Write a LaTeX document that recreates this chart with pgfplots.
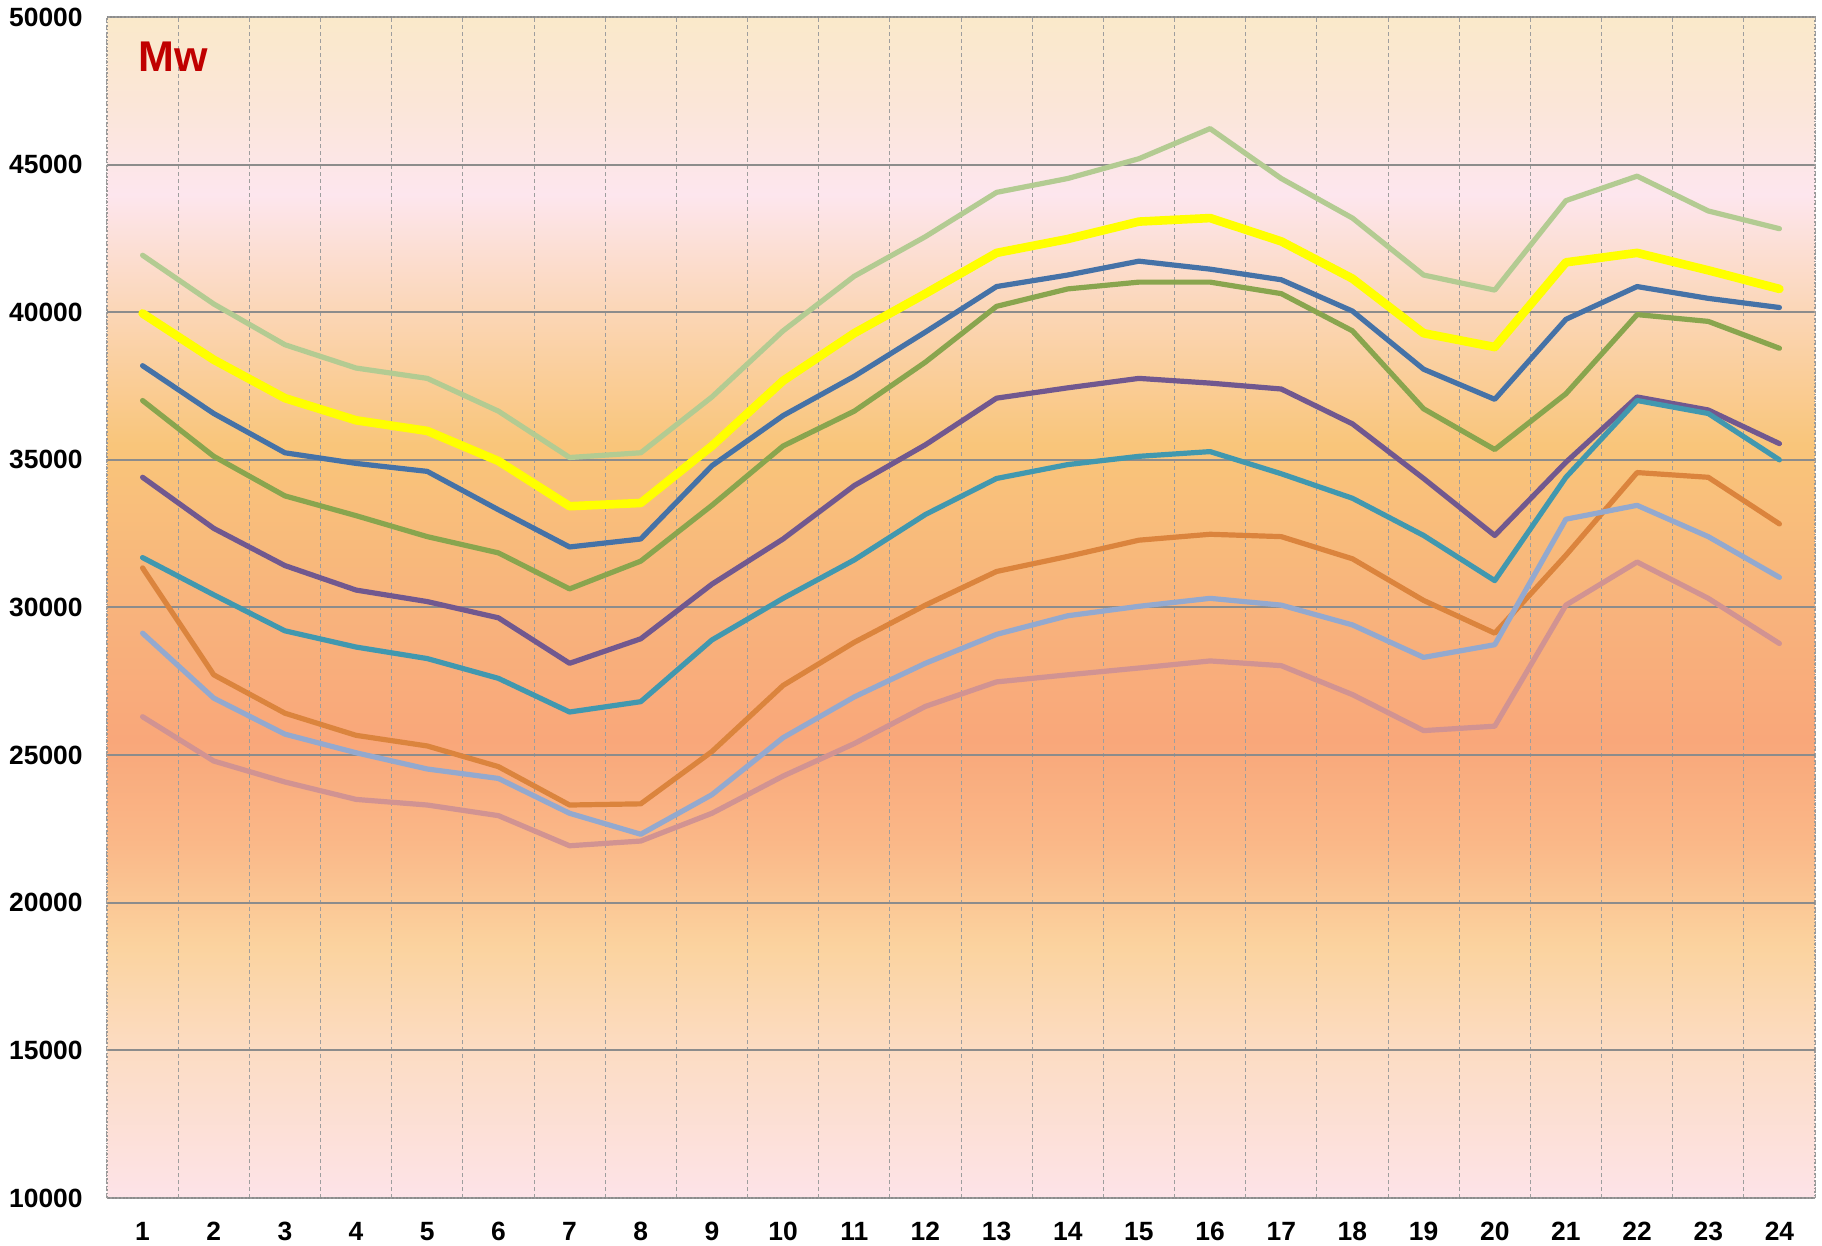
\documentclass[border=0pt]{standalone}
\usepackage{pgfplots}
\pgfplotsset{compat=1.18}
\usepackage{pgfplotstable}
\usepackage{fontspec}
\setmainfont{Liberation Sans}
\definecolor{cA}{HTML}{FDE3E8}
\definecolor{cB}{HTML}{FCDCC3}
\definecolor{cC}{HTML}{FBD39F}
\definecolor{cD}{HTML}{FAB888}
\definecolor{cE}{HTML}{F9A77A}
\definecolor{cF}{HTML}{F8B37C}
\definecolor{cG}{HTML}{F9C57A}
\definecolor{cH}{HTML}{FBD6B6}
\definecolor{cI}{HTML}{FDE6EE}
\definecolor{cJ}{HTML}{FBE6D8}
\definecolor{cK}{HTML}{FAE9CA}
\pgfdeclareverticalshading{bgshade}{100bp}{color(0bp)=(cA); color(25bp)=(cA); color(31.25bp)=(cB); color(35.625bp)=(cC); color(40bp)=(cD); color(44.375bp)=(cE); color(50bp)=(cF); color(56.875bp)=(cG); color(62.5bp)=(cH); color(67.5bp)=(cI); color(71.25bp)=(cJ); color(75bp)=(cK); color(100bp)=(cK)}
\definecolor{sLG}{HTML}{B3CB92}
\definecolor{sYE}{HTML}{FFFF00}
\definecolor{sBL}{HTML}{4572A7}
\definecolor{sOL}{HTML}{89A54E}
\definecolor{sPU}{HTML}{71588F}
\definecolor{sTE}{HTML}{4198AF}
\definecolor{sOR}{HTML}{DB843D}
\definecolor{sLB}{HTML}{93A9CF}
\definecolor{sPK}{HTML}{D19392}
\definecolor{mwred}{HTML}{C00000}
\pgfplotstableread{
x lg yel blu olv pur tea ora lbl pnk
1 41930 39960 38190 37010 34410 31690 31340 29130 26300
2 40280 38390 36570 35120 32680 30430 27720 26930 24800
3 38900 37090 35240 33780 31420 29210 26420 25710 24090
4 38110 36340 34880 33110 30590 28660 25670 25080 23500
5 37760 35980 34610 32400 30200 28270 25310 24530 23310
6 36650 34960 33310 31850 29650 27600 24610 24210 22950
7 35080 33430 32050 30630 28110 26460 23310 23030 21930
8 35240 33540 32320 31570 28940 26810 23350 22320 22090
9 37130 35470 34800 33460 30790 28900 25120 23660 23030
10 39370 37680 36500 35470 32320 30310 27360 25590 24290
11 41220 39290 37830 36650 34130 31610 28820 26970 25390
12 42560 40630 39330 38310 35510 33150 30080 28110 26650
13 44060 42010 40870 40200 37090 34370 31220 29090 27480
14 44530 42480 41260 40790 37440 34840 31730 29720 27720
15 45200 43070 41730 41020 37760 35120 32280 30040 27950
16 46220 43190 41460 41020 37600 35280 32480 30310 28190
17 44530 42400 41100 40630 37400 34530 32400 30080 28030
18 43190 41140 40040 39370 36220 33700 31650 29410 27050
19 41260 39290 38070 36730 34370 32440 30240 28310 25830
20 40750 38820 37050 35350 32440 30910 29130 28740 25980
21 43780 41690 39760 37240 34920 34410 31770 32990 30080
22 44610 42010 40870 39920 37130 37010 34570 33460 31540
23 43430 41420 40470 39690 36690 36570 34410 32400 30310
24 42830 40790 40160 38780 35550 35000 32830 31020 28780
}\datatable
\begin{document}
\begin{tikzpicture}
\useasboundingbox (-53.5bp,-24bp) rectangle (857.5bp,599bp);
\begin{axis}[
  at={(0,0)}, anchor=south west,
  scale only axis, width=854bp, height=590.5bp,
  xmin=0.5, xmax=24.5, ymin=10000, ymax=50000,
  xtick={1,...,24},
  xticklabels={1,2,3,4,5,6,7,8,9,10,11,12,13,14,15,16,17,18,19,20,21,22,23,24},
  ytick={10000,15000,20000,25000,30000,35000,40000,45000,50000},
  yticklabels={10000,15000,20000,25000,30000,35000,40000,45000,50000},
  minor xtick={0.5,1.5,...,24.5},
  major tick length=0pt, minor tick length=0pt,
  /pgf/number format/assume math mode=true,
  tick label style={font=\fontsize{13.2bp}{15bp}\selectfont\bfseries, text=black},
  yticklabel style={anchor=east, inner sep=0pt, xshift=-12bp},
  xticklabel style={anchor=north, inner sep=0pt, yshift=-12bp},
  ymajorgrids=true, xmajorgrids=false, xminorgrids=true,
  major grid style={draw=black!45, line width=1bp},
  minor grid style={draw=black!38, dash pattern=on 2bp off 1.5bp, line width=0.5bp},
  axis line style={draw=black!40, densely dotted, line width=0.8bp},
  axis background/.style={shading=bgshade},
  every axis plot/.append style={line cap=round, line join=round, line width=2.6bp, mark=none},
  clip=false,
]
\addplot[sBL] table[x=x,y=blu]{\datatable};
\addplot[sYE, line width=4.3bp] table[x=x,y=yel]{\datatable};
\addplot[sOL] table[x=x,y=olv]{\datatable};
\addplot[sPU] table[x=x,y=pur]{\datatable};
\addplot[sTE] table[x=x,y=tea]{\datatable};
\addplot[sOR] table[x=x,y=ora]{\datatable};
\addplot[sLB] table[x=x,y=lbl]{\datatable};
\addplot[sPK] table[x=x,y=pnk]{\datatable};
\addplot[sLG] table[x=x,y=lg]{\datatable};
\node[anchor=base west, inner sep=0pt, text=mwred, font=\fontsize{21.5bp}{24bp}\selectfont\bfseries] at ([xshift=15.5bp,yshift=-27.5bp]rel axis cs:0,1) {Mw};
\end{axis}
\end{tikzpicture}
\end{document}
